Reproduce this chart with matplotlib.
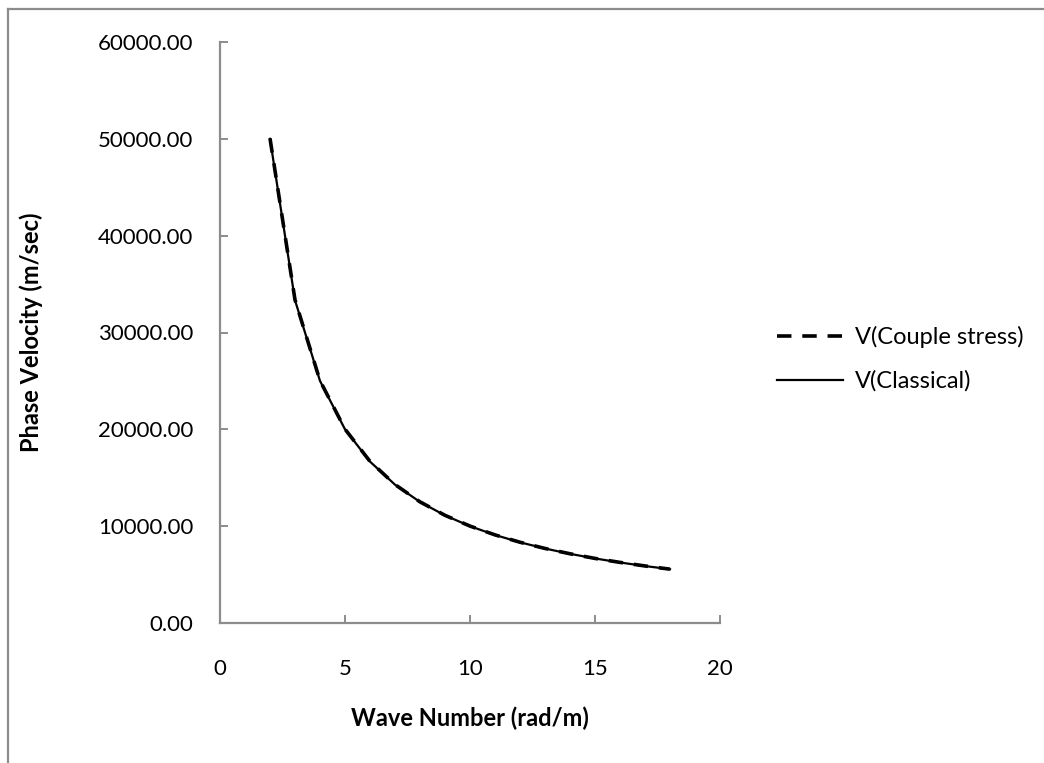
import matplotlib
matplotlib.use("Agg")
import matplotlib.pyplot as plt
from matplotlib.lines import Line2D

plt.rcParams['font.family'] = ['Lato', 'DejaVu Sans']

wave_number = [2, 3, 4, 5, 6, 7, 8, 9, 10, 11, 12, 13, 14, 15, 16, 17, 18]
v_couple = [50050, 33370, 25030, 20020, 16690, 14300, 12510, 11120, 10010,
            9100, 8340, 7700, 7150, 6670, 6260, 5890, 5560]
v_classical = [50000, 33333, 25000, 20000, 16667, 14286, 12500, 11111, 10000,
               9091, 8333, 7692, 7143, 6667, 6250, 5882, 5556]

x_ticks = [0, 5, 10, 15, 20]
y_ticks = [0, 10000, 20000, 30000, 40000, 50000, 60000]

fig = plt.figure(figsize=(10.44, 7.63), dpi=100)
ax = fig.add_axes([220/1044, 1-623/763, 500/1044, 581/763])

ax.plot(wave_number, v_couple, color='black', lw=2.6, ls=(0, (4, 3)),
        label='V(Couple stress)')
ax.plot(wave_number, v_classical, color='black', lw=1.6, ls='-',
        label='V(Classical)')

ax.set_xlim(0, 20)
ax.set_ylim(0, 60000)
ax.set_xticks(x_ticks)
ax.set_xticklabels([str(t) for t in x_ticks])
ax.set_yticks(y_ticks)
ax.set_yticklabels([f"{t:.2f}" for t in y_ticks])

grey = '#8c8c8c'
for s in ['top', 'right']:
    ax.spines[s].set_visible(False)
for s in ['left', 'bottom']:
    ax.spines[s].set_color(grey)
    ax.spines[s].set_linewidth(1.6)
ax.tick_params(axis='both', direction='in', length=6, width=1.4, color=grey,
               labelsize=16, labelcolor='black')
ax.tick_params(axis='y', pad=19)
ax.tick_params(axis='x', pad=26)

ax.set_xlabel('Wave Number (rad/m)', fontsize=17, fontweight='bold', labelpad=20)
ax.set_ylabel('Phase Velocity (m/sec)', fontsize=17, fontweight='bold', labelpad=40)

leg = fig.legend(loc='center left', bbox_to_anchor=(756/1044, 1-359/763),
                 frameon=False, fontsize=17, handlelength=2.8, handletextpad=0.5,
                 labelspacing=0.95)

# outer chart border (left and top)
fig.add_artist(Line2D([8/1044, 8/1044], [0, 1-9/763], color=grey, lw=1.6,
                      transform=fig.transFigure))
fig.add_artist(Line2D([8/1044, 1], [1-9/763, 1-9/763], color=grey, lw=1.6,
                      transform=fig.transFigure))

fig.savefig('out.png', dpi=100)
